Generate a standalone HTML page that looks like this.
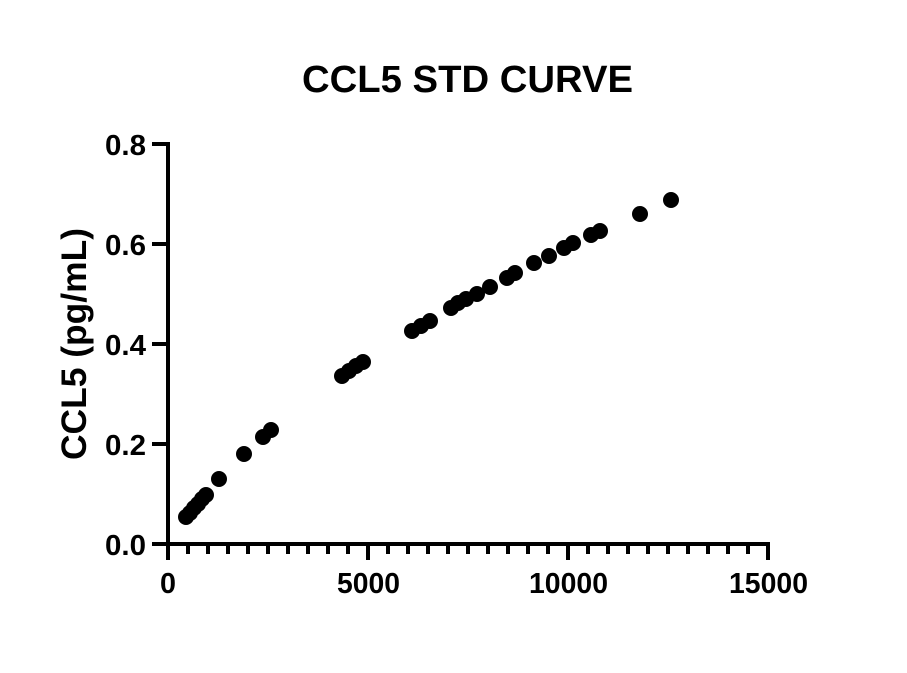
<!DOCTYPE html>
<html><head><style>body{margin:0;background:#fff}</style></head><body>
<svg width="907" height="668" xmlns="http://www.w3.org/2000/svg" font-family="Liberation Sans, Arial, sans-serif" font-weight="bold">
<rect width="907" height="668" fill="#fff"/>
<text x="302" y="92" font-size="38" textLength="331" lengthAdjust="spacingAndGlyphs">CCL5 STD CURVE</text>
<text transform="translate(86,344) rotate(-90)" font-size="35" text-anchor="middle" textLength="232" lengthAdjust="spacingAndGlyphs">CCL5 (pg/mL)</text>
<g stroke="#000" stroke-width="4" fill="none">
<line x1="168" y1="142" x2="168" y2="546"/>
<line x1="166" y1="544" x2="770" y2="544"/>
<line x1="152" y1="144" x2="168" y2="144"/>
<line x1="152" y1="244" x2="168" y2="244"/>
<line x1="152" y1="344" x2="168" y2="344"/>
<line x1="152" y1="444" x2="168" y2="444"/>
<line x1="152" y1="544" x2="168" y2="544"/>
<line x1="168" y1="544" x2="168" y2="560"/>
<line x1="368" y1="544" x2="368" y2="560"/>
<line x1="568" y1="544" x2="568" y2="560"/>
<line x1="768" y1="544" x2="768" y2="560"/>
</g>
<g stroke="#000" stroke-width="4">
<line x1="188" y1="544" x2="188" y2="554"/><line x1="208" y1="544" x2="208" y2="554"/><line x1="228" y1="544" x2="228" y2="554"/><line x1="248" y1="544" x2="248" y2="554"/><line x1="268" y1="544" x2="268" y2="554"/><line x1="288" y1="544" x2="288" y2="554"/><line x1="308" y1="544" x2="308" y2="554"/><line x1="328" y1="544" x2="328" y2="554"/><line x1="348" y1="544" x2="348" y2="554"/>
<line x1="388" y1="544" x2="388" y2="554"/><line x1="408" y1="544" x2="408" y2="554"/><line x1="428" y1="544" x2="428" y2="554"/><line x1="448" y1="544" x2="448" y2="554"/><line x1="468" y1="544" x2="468" y2="554"/><line x1="488" y1="544" x2="488" y2="554"/><line x1="508" y1="544" x2="508" y2="554"/><line x1="528" y1="544" x2="528" y2="554"/><line x1="548" y1="544" x2="548" y2="554"/>
<line x1="588" y1="544" x2="588" y2="554"/><line x1="608" y1="544" x2="608" y2="554"/><line x1="628" y1="544" x2="628" y2="554"/><line x1="648" y1="544" x2="648" y2="554"/><line x1="668" y1="544" x2="668" y2="554"/><line x1="688" y1="544" x2="688" y2="554"/><line x1="708" y1="544" x2="708" y2="554"/><line x1="728" y1="544" x2="728" y2="554"/><line x1="748" y1="544" x2="748" y2="554"/>
</g>
<g font-size="29">
<text x="105" y="155" textLength="41" lengthAdjust="spacingAndGlyphs">0.8</text>
<text x="105" y="255" textLength="41" lengthAdjust="spacingAndGlyphs">0.6</text>
<text x="105" y="355" textLength="41" lengthAdjust="spacingAndGlyphs">0.4</text>
<text x="105" y="455" textLength="41" lengthAdjust="spacingAndGlyphs">0.2</text>
<text x="105" y="555" textLength="41" lengthAdjust="spacingAndGlyphs">0.0</text>
</g>
<g font-size="29">
<text x="160" y="593" textLength="16" lengthAdjust="spacingAndGlyphs">0</text>
<text x="337" y="593" textLength="63" lengthAdjust="spacingAndGlyphs">5000</text>
<text x="529" y="593" textLength="79" lengthAdjust="spacingAndGlyphs">10000</text>
<text x="729" y="593" textLength="79" lengthAdjust="spacingAndGlyphs">15000</text>
</g>
<g fill="#000">
<circle cx="186" cy="517" r="8"/><circle cx="190" cy="513" r="8"/><circle cx="194" cy="508" r="8"/><circle cx="198" cy="504" r="8"/><circle cx="202" cy="499" r="8"/><circle cx="206" cy="495" r="8"/>
<circle cx="219" cy="479" r="8"/><circle cx="244" cy="454" r="8"/><circle cx="263" cy="437" r="8"/><circle cx="271" cy="430" r="8"/>
<circle cx="342" cy="376" r="8"/><circle cx="349" cy="371" r="8"/><circle cx="356" cy="366" r="8"/><circle cx="363" cy="362" r="8"/>
<circle cx="412" cy="331" r="8"/><circle cx="421" cy="326" r="8"/><circle cx="430" cy="321" r="8"/><circle cx="451" cy="308" r="8"/><circle cx="458" cy="303" r="8"/><circle cx="466" cy="299" r="8"/><circle cx="477" cy="294" r="8"/><circle cx="490" cy="287" r="8"/><circle cx="507" cy="278" r="8"/><circle cx="515" cy="273" r="8"/><circle cx="534" cy="263" r="8"/><circle cx="549" cy="256" r="8"/><circle cx="564" cy="248" r="8"/><circle cx="573" cy="243" r="8"/><circle cx="591" cy="235" r="8"/><circle cx="600" cy="231" r="8"/><circle cx="640" cy="214" r="8"/><circle cx="671" cy="200" r="8"/>
</g>
</svg>
</body></html>
